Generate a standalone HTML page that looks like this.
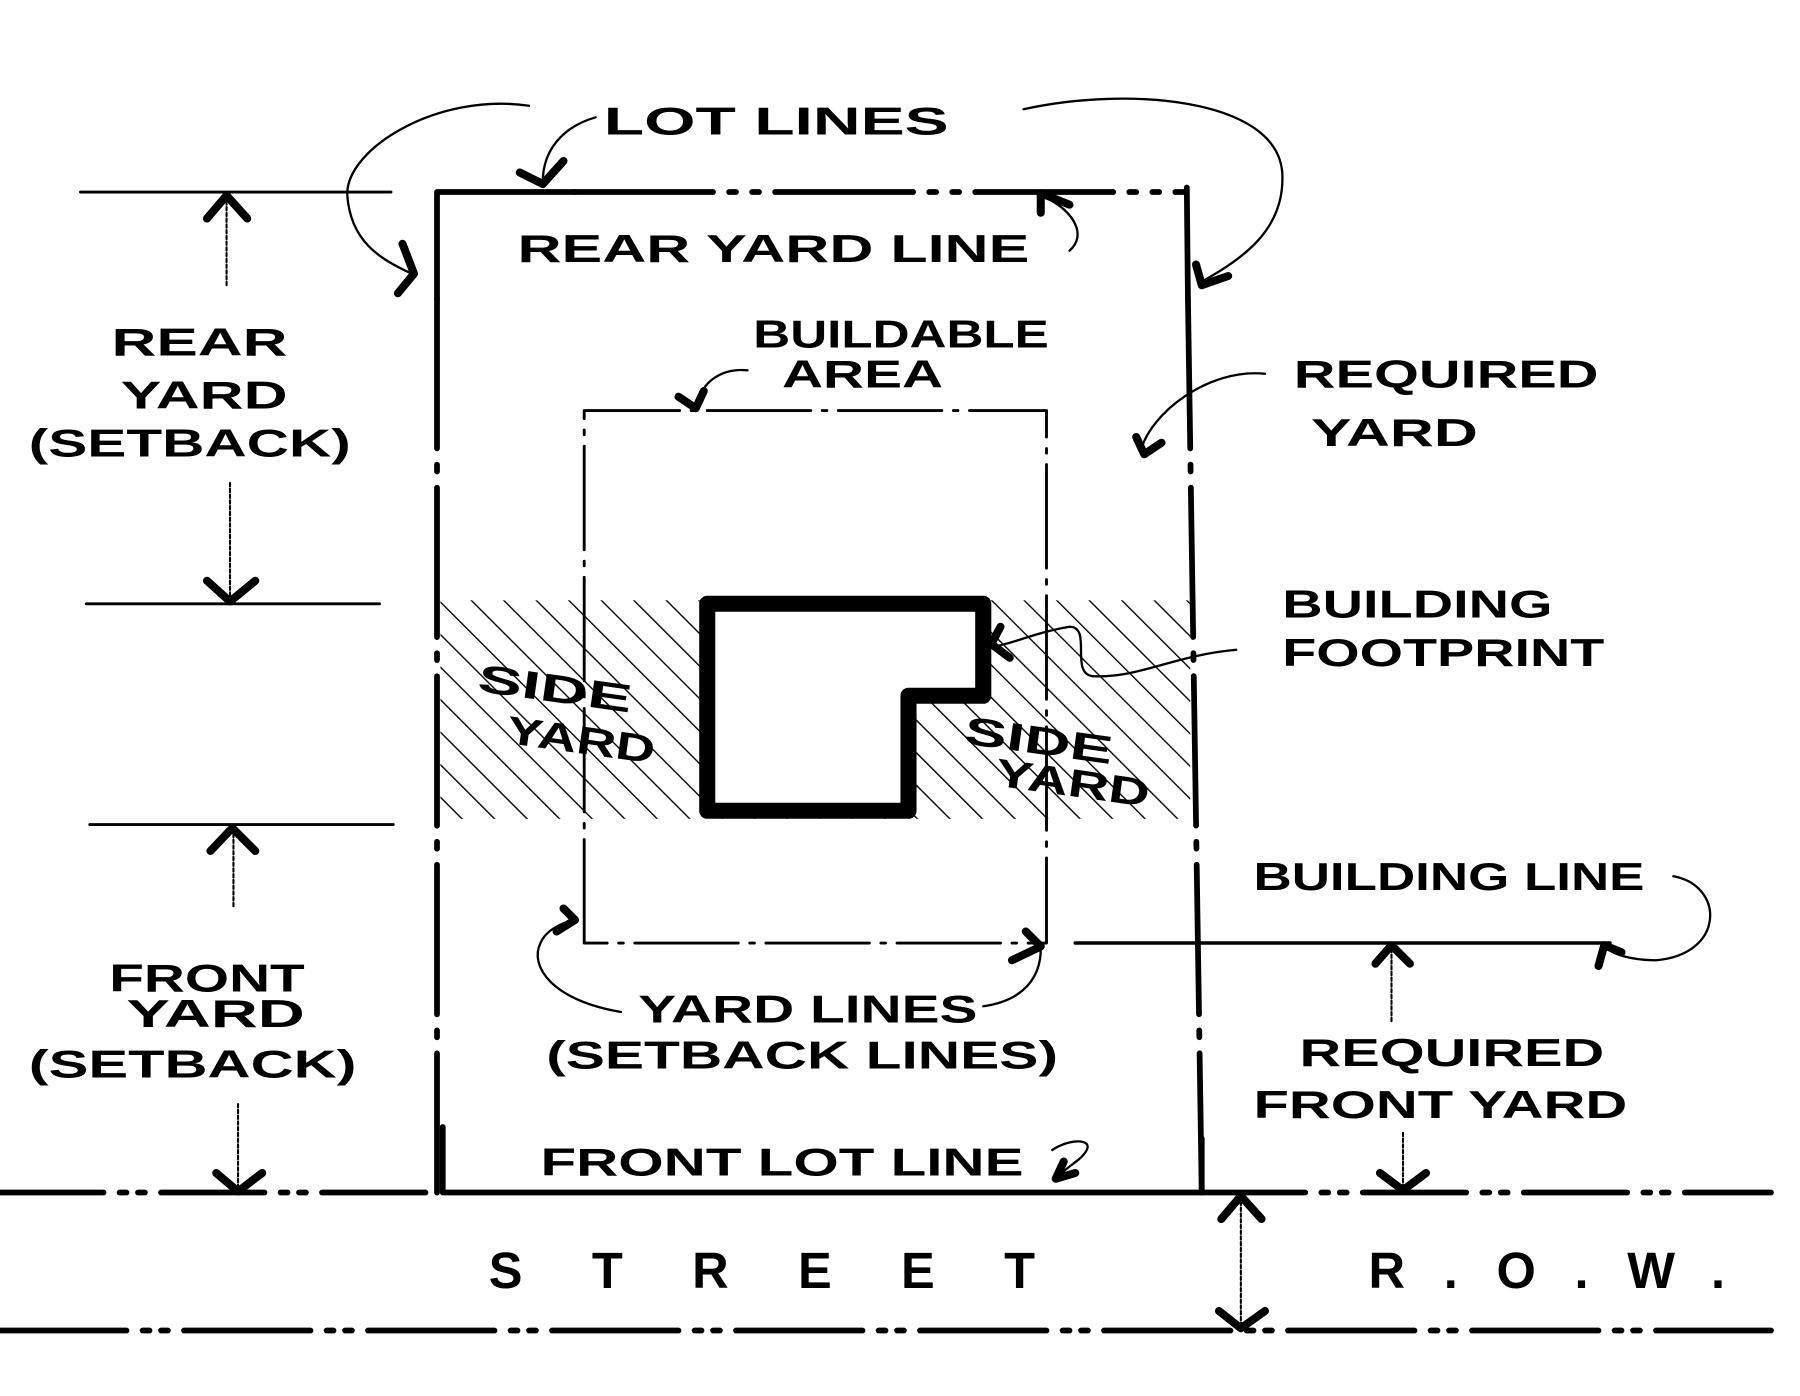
<!DOCTYPE html>
<html><head><meta charset="utf-8"><style>
html,body{margin:0;padding:0;background:#fff;}
svg{display:block}
text{font-family:"Liberation Sans",sans-serif;fill:#000;font-weight:bold;}
</style></head><body>
<svg width="1800" height="1396" viewBox="0 0 1800 1396" xmlns="http://www.w3.org/2000/svg">
<defs>
<pattern id="h" width="20" height="20" patternUnits="userSpaceOnUse" patternTransform="rotate(-45)">
<line x1="0" y1="0" x2="0" y2="20" stroke="#000" stroke-width="2.4"/>
</pattern>
</defs>
<rect width="1800" height="1396" fill="#fff"/>
<g transform="scale(1.15)" fill="none" stroke="#000" stroke-linecap="round" stroke-linejoin="round">
<rect x="383" y="522" width="652" height="190" fill="url(#h)" stroke="none"/>
<path d="M508 820 V357 H910 V820 H508" stroke-width="2.5" stroke-dasharray="90 10 4 10"/>
<path d="M615 525 H855 V605 H790 V705 H615 Z" stroke-width="14" fill="#fff"/>
<!-- lot lines -->
<path d="M500 167 H1032" stroke-width="5" stroke-dasharray="120 14 6 14 6 14"/>
<path d="M380 167 H500 M1032 163 L1033 260 M380 167 V260" stroke-width="5"/>
<path d="M380 260 V1037" stroke-width="5" stroke-dasharray="130 14 6 14"/>
<path d="M1033 260 L1045 1037" stroke-width="5" stroke-dasharray="130 14 6 14"/>
<path d="M385 980 V1037 H1045 V990" stroke-width="5"/>
<!-- street lines -->
<path d="M0 1037 H380 M1045 1037 H1540" stroke-width="5" stroke-dasharray="90 14 6 10 6 14"/>
<path d="M0 1157 H1540" stroke-width="5" stroke-dasharray="110 14 6 10 6 14"/>
<path d="M935 820 H1400" stroke-width="3"/>
<path d="M70 167 H340 M75 525 H330 M78 717 H342" stroke-width="2.5"/>
<path d="M197 175 V250 M200 420 V520 M203 725 V790 M207 960 V1035 M1210 825 V890 M1220 985 V1035 M1079 1045 V1155" stroke-width="1.8" stroke-dasharray="3 2"/>
<g stroke-width="7">
<path d="M180 190 L197 170 L215 190"/>
<path d="M180 505 L200 523 L222 505"/>
<path d="M183 740 L202 720 L222 740"/>
<path d="M188 1020 L207 1036 L228 1020"/>
<path d="M1062 1060 L1079 1040 L1097 1060"/>
<path d="M1060 1140 L1079 1155 L1100 1140"/>
<path d="M1196 838 L1210 822 L1226 838"/>
<path d="M1200 1020 L1220 1035 L1240 1020"/>
<path d="M452 150 L472 160 L490 140"/>
<path d="M350 212 L360 238 L346 255"/>
<path d="M1040 230 L1045 248 L1068 240"/>
<path d="M905 185 L905 168 L930 178"/>
<path d="M988 380 L995 395 L1010 385"/>
<path d="M590 345 L605 355 L612 340"/>
<path d="M484 810 L500 800 M500 800 L490 790"/>
<path d="M880 835 L905 823 L892 810"/>
<path d="M1390 840 L1395 822 L1410 828"/>
<path d="M870 545 L862 560 L878 572"/>
<path d="M918 1025 L925 1010 M918 1025 L935 1020"/>
</g>
<g stroke-width="2">
<path d="M460 92 C380 80 300 130 302 170 C305 210 330 225 358 238"/>
<path d="M518 102 C490 110 472 130 472 158"/>
<path d="M890 95 C980 75 1110 85 1115 150 C1118 200 1080 225 1045 245"/>
<path d="M930 218 C945 205 935 185 910 172"/>
<path d="M1100 325 C1050 320 1000 360 992 392"/>
<path d="M650 322 C630 320 610 330 607 352"/>
<path d="M1075 565 C1020 570 990 590 950 588 C930 585 950 545 930 545 C900 550 880 560 865 562"/>
<path d="M1455 762 C1500 770 1500 830 1440 835 C1420 835 1400 830 1395 822"/>
<path d="M540 880 C480 870 460 840 470 820 C475 808 490 802 500 800"/>
<path d="M855 875 C890 870 905 850 905 825"/>
<path d="M915 1000 C930 990 950 990 945 1000 C940 1010 925 1015 920 1025"/>
</g>
</g>
<g transform="scale(1.15)" font-size="34">
<text x="525" y="117" textLength="300" lengthAdjust="spacingAndGlyphs">LOT LINES</text>
<text x="450" y="228" textLength="445" lengthAdjust="spacingAndGlyphs">REAR YARD LINE</text>
<text x="655" y="302" textLength="257" lengthAdjust="spacingAndGlyphs">BUILDABLE</text>
<text x="680" y="337" textLength="140" lengthAdjust="spacingAndGlyphs">AREA</text>
<text x="1125" y="337" textLength="265" lengthAdjust="spacingAndGlyphs">REQUIRED</text>
<text x="1140" y="388" textLength="145" lengthAdjust="spacingAndGlyphs">YARD</text>
<text x="97" y="309" textLength="153" lengthAdjust="spacingAndGlyphs">REAR</text>
<text x="105" y="355" textLength="145" lengthAdjust="spacingAndGlyphs">YARD</text>
<text x="25" y="397" textLength="280" lengthAdjust="spacingAndGlyphs">(SETBACK)</text>
<text x="1115" y="537" textLength="235" lengthAdjust="spacingAndGlyphs">BUILDING</text>
<text x="1115" y="579" textLength="280" lengthAdjust="spacingAndGlyphs">FOOTPRINT</text>
<text x="415" y="610" textLength="135" lengthAdjust="spacingAndGlyphs" transform="rotate(8 480 600)">SIDE</text>
<text x="440" y="655" textLength="130" lengthAdjust="spacingAndGlyphs" transform="rotate(8 505 645)">YARD</text>
<text x="838" y="655" textLength="130" lengthAdjust="spacingAndGlyphs" transform="rotate(8 900 645)">SIDE</text>
<text x="865" y="692" textLength="135" lengthAdjust="spacingAndGlyphs" transform="rotate(8 930 682)">YARD</text>
<text x="1090" y="774" textLength="340" lengthAdjust="spacingAndGlyphs">BUILDING LINE</text>
<text x="95" y="862" textLength="170" lengthAdjust="spacingAndGlyphs">FRONT</text>
<text x="110" y="893" textLength="155" lengthAdjust="spacingAndGlyphs">YARD</text>
<text x="25" y="937" textLength="285" lengthAdjust="spacingAndGlyphs">(SETBACK)</text>
<text x="555" y="889" textLength="295" lengthAdjust="spacingAndGlyphs">YARD LINES</text>
<text x="475" y="929" textLength="445" lengthAdjust="spacingAndGlyphs">(SETBACK LINES)</text>
<text x="1130" y="927" textLength="265" lengthAdjust="spacingAndGlyphs">REQUIRED</text>
<text x="1090" y="972" textLength="325" lengthAdjust="spacingAndGlyphs">FRONT YARD</text>
<text x="470" y="1022" textLength="420" lengthAdjust="spacingAndGlyphs">FRONT LOT LINE</text>
<text x="425" y="1120" font-size="44" font-weight="normal" textLength="475" lengthAdjust="spacing">STREET</text>
<text x="1190" y="1120" font-size="44" font-weight="normal" textLength="310" lengthAdjust="spacing">R.O.W.</text>
</g>
</svg>
</body></html>
